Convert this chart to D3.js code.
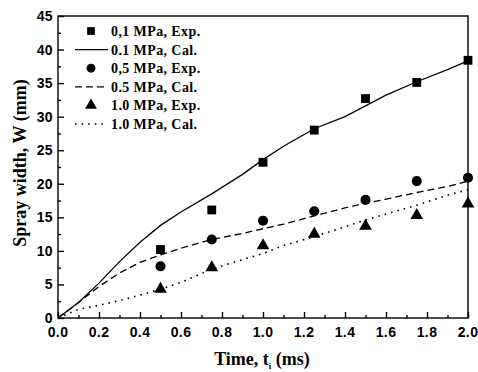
<!DOCTYPE html>
<html>
<head>
<meta charset="utf-8">
<script src="https://cdn.jsdelivr.net/npm/d3@7"></script>
<style>
    body { margin: 0; background: #fff; }
    .tick-label { font-family: "Liberation Sans", Arial, sans-serif; font-weight: bold; font-size: 14px; letter-spacing: 0.4px; }
    .title { font-family: "Liberation Serif", "Times New Roman", serif; font-weight: bold; }
    .legend text { font-family: "Liberation Serif", "Times New Roman", serif; font-weight: bold; font-size: 14px; letter-spacing: 0.4px; }
</style>
</head>
<body>
<div id="chart"></div>
<script>
// experimental points
var expTime = [0.5, 0.75, 1.0, 1.25, 1.5, 1.75, 2.0];
var exp01 = [10.2, 16.1, 23.2, 28.0, 32.7, 35.1, 38.4];
var exp05 = [7.7, 11.7, 14.5, 15.9, 17.6, 20.4, 20.9];
var exp10 = [4.3, 7.5, 10.8, 12.5, 13.7, 15.3, 17.0];

// calculated curves
var calTime = [0, 0.1, 0.2, 0.3, 0.4, 0.5, 0.6, 0.75, 0.9, 1.0, 1.1, 1.25, 1.4, 1.5, 1.6, 1.75, 1.9, 2.0];
var cal01 = [0, 2.3, 5.2, 8.4, 11.3, 13.8, 15.8, 18.5, 21.4, 23.6, 25.6, 28.2, 30.0, 31.6, 33.2, 35.2, 37.0, 38.3];
var cal05 = [0, 2.3, 4.7, 6.7, 8.3, 9.4, 10.4, 11.7, 12.6, 13.3, 14.0, 15.2, 16.4, 17.1, 17.7, 18.7, 19.6, 20.4];
var cal10 = [0, 1.3, 1.9, 2.6, 3.4, 4.3, 5.3, 7.3, 8.7, 9.6, 10.8, 12.1, 13.6, 14.6, 15.5, 16.8, 18.3, 19.1];

var xTicks = [0, 0.2, 0.4, 0.6, 0.8, 1.0, 1.2, 1.4, 1.6, 1.8, 2.0];
var yTicks = [0, 5, 10, 15, 20, 25, 30, 35, 40, 45];

var legendLabels = ["0,1 MPa, Exp.", "0.1 MPa, Cal.", "0,5 MPa, Exp.", "0.5 MPa, Cal.", "1.0 MPa, Exp.", "1.0 MPa, Cal."];

var width = 478, height = 372;
var margin = { left: 58, right: 10, top: 16, bottom: 54 };

var svg = d3.select('#chart').append('svg')
    .attr('width', width)
    .attr('height', height);

var x = d3.scaleLinear().domain([0, 2.0]).range([margin.left, width - margin.right]);
var y = d3.scaleLinear().domain([0, 45]).range([height - margin.bottom, margin.top]);

// frame
svg.append('rect')
    .attr('x', x(0)).attr('y', y(45))
    .attr('width', x(2) - x(0)).attr('height', y(0) - y(45))
    .attr('fill', 'none').attr('stroke', '#000').attr('stroke-width', 1.4);

// minor ticks (inward)
var xMinor = d3.axisTop(x).tickValues(d3.range(0.1, 2.0, 0.2)).tickSize(3).tickFormat('');
svg.append('g').attr('transform', 'translate(0,' + y(0) + ')').call(xMinor)
    .call(function(g) { g.select('.domain').remove(); });
var yMinor = d3.axisRight(y).tickValues(d3.range(2.5, 45, 5)).tickSize(3).tickFormat('');
svg.append('g').attr('transform', 'translate(' + x(0) + ',0)').call(yMinor)
    .call(function(g) { g.select('.domain').remove(); });

// major ticks
var xAxis = d3.axisTop(x).tickValues(xTicks).tickSize(6).tickFormat('');
svg.append('g').attr('transform', 'translate(0,' + y(0) + ')').call(xAxis)
    .call(function(g) { g.select('.domain').remove(); });
var yAxis = d3.axisRight(y).tickValues(yTicks).tickSize(6).tickFormat('');
svg.append('g').attr('transform', 'translate(' + x(0) + ',0)').call(yAxis)
    .call(function(g) { g.select('.domain').remove(); });

svg.selectAll('.tick line').attr('stroke-width', 1.4);

// tick labels
svg.append('g').selectAll('text').data(xTicks).enter().append('text')
    .attr('class', 'tick-label')
    .attr('x', function(d) { return x(d); })
    .attr('y', y(0) + 19)
    .attr('text-anchor', 'middle')
    .text(function(d) { return d3.format('.1f')(d); });

svg.append('g').selectAll('text').data(yTicks).enter().append('text')
    .attr('class', 'tick-label')
    .attr('x', x(0) - 5)
    .attr('y', function(d) { return y(d) + 5; })
    .attr('text-anchor', 'end')
    .text(function(d) { return d; });

// axis titles
var xt = svg.append('text').attr('class', 'title')
    .attr('x', 262).attr('y', 365)
    .attr('text-anchor', 'middle')
    .style('font-size', '18px');
xt.append('tspan').text('Time, t');
xt.append('tspan').attr('dy', 4).style('font-size', '9px').text('i');
xt.append('tspan').attr('dy', -4).text(' (ms)');

svg.append('text').attr('class', 'title')
    .attr('transform', 'translate(26,' + 163 + ') rotate(-90)')
    .attr('text-anchor', 'middle')
    .style('font-size', '18px')
    .text('Spray width, W (mm)');

// curves
var line = d3.line()
    .x(function(d) { return x(d[0]); })
    .y(function(d) { return y(d[1]); });

var curves = [
    { values: cal01, dash: null },
    { values: cal05, dash: '7,4' },
    { values: cal10, dash: '1.6,5' }
];

svg.selectAll('path.curve').data(curves).enter().append('path')
    .attr('class', 'curve')
    .attr('d', function(c) { return line(d3.zip(calTime, c.values)); })
    .attr('fill', 'none')
    .attr('stroke', '#000')
    .attr('stroke-width', function(c) { return c.dash === '1.6,5' ? 1.6 : 1.3; })
    .attr('stroke-dasharray', function(c) { return c.dash; });

// experimental markers
var symSquare = d3.symbol().type(d3.symbolSquare).size(78);
var symCircle = d3.symbol().type(d3.symbolCircle).size(80);
var symTri = d3.symbol().type(d3.symbolTriangle).size(70);

var points = [
    { values: exp01, sym: symSquare },
    { values: exp05, sym: symCircle },
    { values: exp10, sym: symTri }
];

points.forEach(function(p) {
    svg.append('g').selectAll('path').data(d3.zip(expTime, p.values)).enter().append('path')
        .attr('d', p.sym())
        .attr('transform', function(d) { return 'translate(' + x(d[0]) + ',' + y(d[1]) + ')'; })
        .attr('fill', '#000');
});

// legend
var legend = svg.append('g').attr('class', 'legend');
var rowY = d3.scaleLinear().domain([0, 5]).range([31, 124]);

legendLabels.forEach(function(label, i) {
    var cy = rowY(i);
    if (i % 2 === 0) {
        legend.append('path')
            .attr('d', points[i / 2].sym.size(i === 0 ? 60 : 62)())
            .attr('transform', 'translate(91,' + cy + ')')
            .attr('fill', '#000');
    } else {
        var c = curves[(i - 1) / 2];
        legend.append('line')
            .attr('x1', 75).attr('x2', 108)
            .attr('y1', cy).attr('y2', cy)
            .attr('stroke', '#000')
            .attr('stroke-width', c.dash === '1.6,5' ? 1.6 : 1.3)
            .attr('stroke-dasharray', c.dash);
    }
    legend.append('text')
        .attr('x', 111)
        .attr('y', cy + 5)
        .text(label);
});
</script>
</body>
</html>
